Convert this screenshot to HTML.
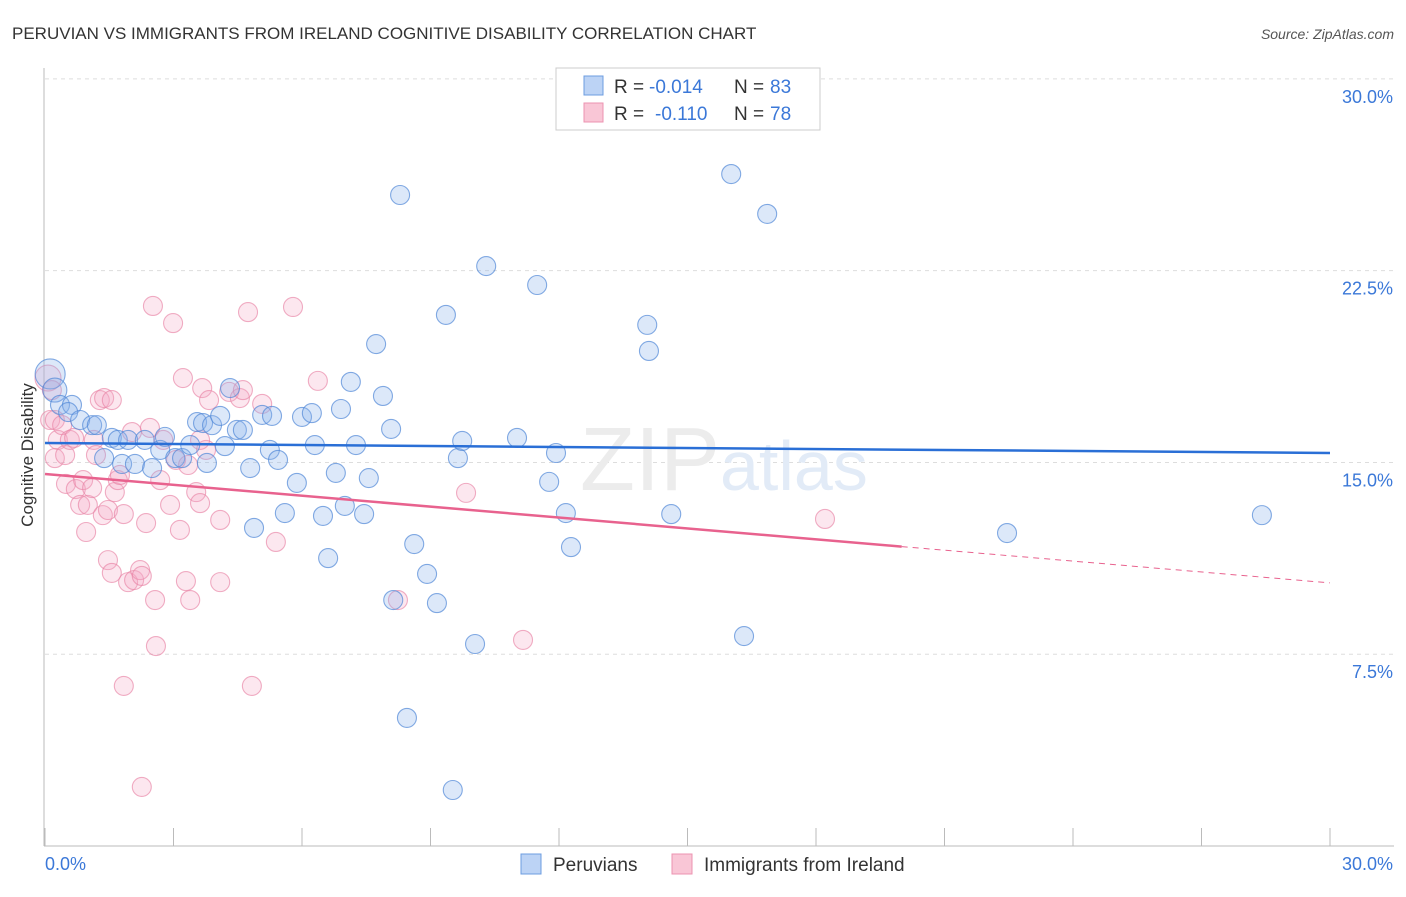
<!DOCTYPE html>
<html><head><meta charset="utf-8"><style>
body{margin:0;background:#fff;font-family:"Liberation Sans",sans-serif}
svg text{font-family:"Liberation Sans",sans-serif}
</style></head><body>
<svg id="chart" width="1406" height="892">
<text x="12" y="39" font-size="17" fill="#333">PERUVIAN VS IMMIGRANTS FROM IRELAND COGNITIVE DISABILITY CORRELATION CHART</text>
<text x="1394" y="39" font-size="14" fill="#555" text-anchor="end" font-style="italic">Source: ZipAtlas.com</text>
<g id="grid"></g>
<text x="720" y="490" font-size="90" fill="#ececec" font-family="Liberation Serif" text-anchor="end">ZIP</text>
<text x="720" y="490" font-size="70" fill="#e2ebf7">atlas</text>
<g id="pts"></g>
<g id="trends"></g>
<text x="35" y="455" font-size="17" fill="#333" text-anchor="middle" transform="rotate(-90 35 455)" dy="-2">Cognitive Disability</text>
<g>
<rect x="556" y="68" width="264" height="62" fill="#fff" stroke="#ccc"/>
<rect x="584" y="76" width="19" height="19" fill="#bcd3f5" stroke="#6c9de0"/>
<rect x="584" y="103" width="19" height="19" fill="#f9c6d6" stroke="#ec93b0"/>
<text x="614" y="93" font-size="19" fill="#333">R =</text>
<text x="649" y="93" font-size="19" fill="#3b78d8">-0.014</text>
<text x="734" y="93" font-size="19" fill="#333">N =</text>
<text x="770" y="93" font-size="19" fill="#3b78d8">83</text>
<text x="614" y="120" font-size="19" fill="#333">R =</text>
<text x="655" y="120" font-size="19" fill="#3b78d8">-0.110</text>
<text x="734" y="120" font-size="19" fill="#333">N =</text>
<text x="770" y="120" font-size="19" fill="#3b78d8">78</text>
</g>
<g>
<rect x="521" y="854" width="20" height="20" fill="#bcd3f5" stroke="#6c9de0"/>
<text x="553" y="871" font-size="19" fill="#333">Peruvians</text>
<rect x="672" y="854" width="20" height="20" fill="#f9c6d6" stroke="#ec93b0"/>
<text x="704" y="871" font-size="19" fill="#333">Immigrants from Ireland</text>
</g>
</svg>
<script>
const yTicks=[7.5,15,22.5,30];
const yTickLabels=["7.5%","15.0%","22.5%","30.0%"];
const xTickLabels=["0.0%","30.0%"];
const blueX=[0.12,0.23,0.35,0.63,0.54,0.82,1.10,1.21,1.38,1.56,1.70,1.94,1.80,2.10,2.33,2.50,2.69,2.80,3.04,3.20,3.39,3.55,3.69,3.78,3.90,4.09,4.20,4.32,4.48,4.62,4.79,4.88,5.07,5.25,5.30,5.44,5.60,5.88,6.00,6.23,6.30,6.49,6.61,6.79,6.91,7.00,7.14,7.26,7.45,7.56,7.73,7.89,8.08,8.13,8.29,8.45,8.62,8.92,9.15,9.36,9.52,9.64,9.74,10.04,10.30,11.02,11.49,11.77,11.93,12.16,12.28,14.06,14.10,14.62,16.02,16.32,16.86,22.46,28.41];
const blueY=[18.46,17.83,17.25,17.25,16.97,16.66,16.46,16.46,15.17,15.96,15.88,15.88,14.94,14.94,15.88,14.78,15.49,16.00,15.17,15.17,15.68,16.58,16.54,14.98,16.46,16.82,15.64,17.91,16.27,16.27,14.78,12.44,16.86,15.49,16.82,15.10,13.02,14.20,16.78,16.93,15.68,12.91,11.26,14.59,17.09,13.30,18.15,15.68,12.98,14.39,19.63,17.60,16.31,9.62,25.46,5.01,11.81,10.64,9.50,20.77,2.19,15.17,15.84,7.90,22.68,15.96,21.94,14.24,15.37,13.02,11.69,20.38,19.36,12.98,26.28,8.21,24.72,12.24,12.94];
const pinkX=[0.07,0.16,0.12,0.23,0.30,0.23,0.40,0.47,0.49,0.58,0.68,0.72,0.82,0.89,0.96,1.00,1.10,1.14,1.19,1.28,1.38,1.35,1.47,1.47,1.56,1.63,1.70,1.75,1.84,1.84,1.94,2.08,2.22,2.26,2.36,2.45,2.52,2.57,2.59,2.26,2.69,2.76,2.92,2.99,3.06,3.15,3.22,3.29,3.39,3.34,3.53,3.62,3.67,3.76,3.83,4.09,4.09,4.30,4.55,4.62,4.74,4.83,5.07,5.39,5.79,6.37,8.24,9.83,11.16,18.21,2.03,1.56,3.62];
const pinkY=[18.30,17.83,16.66,16.66,15.88,15.17,16.46,15.29,14.16,15.88,15.96,13.96,13.34,14.31,12.28,13.34,14.00,15.88,15.29,17.44,17.52,12.94,13.14,11.18,10.68,13.84,14.31,14.51,12.98,6.26,10.32,10.40,10.79,10.56,12.63,16.35,21.12,9.62,7.82,2.31,14.31,15.88,13.34,20.45,15.10,12.36,18.30,10.36,9.62,14.90,13.84,13.41,17.91,15.49,17.44,12.75,10.32,17.76,17.52,17.83,20.88,6.26,17.29,11.89,21.08,18.19,9.62,13.81,8.06,12.79,16.19,17.44,15.88];
const blueTrend=[15.76,15.37];
const pinkTrend=[14.55,10.29];
const pinkSolidEnd=20;
const NS="http://www.w3.org/2000/svg";
const X=v=>45+v*(1285/30), Y=v=>846-v*25.57;
function mk(tag,attrs,parent){const e=document.createElementNS(NS,tag);for(const k in attrs)e.setAttribute(k,attrs[k]);parent.appendChild(e);return e;}
const grid=document.getElementById('grid');
yTicks.forEach((t,i)=>{
 const l=mk('line',{x1:45,x2:1394,y1:Y(t),y2:Y(t),stroke:'#ddd','stroke-dasharray':'4,4'},grid);
 
 
 const tx=mk('text',{x:1393,y:Y(t)+24,'font-size':18,fill:'#3b78d8','text-anchor':'end'},grid);
 tx.textContent=yTickLabels[i];
 
 
});
mk('line',{x1:44,x2:44,y1:68,y2:846,stroke:'#bbb'},grid);
mk('line',{x1:44,x2:1394,y1:846,y2:846,stroke:'#bbb'},grid);
for(let i=0;i<=10;i++){const tk=mk('line',{x1:X(i*3),x2:X(i*3),y1:828,y2:846,stroke:'#bbb'},grid);
 
 }
[[0,45,'start'],[30,1393,'end']].forEach((a,i)=>{const tx=mk('text',{x:a[1],y:870,'font-size':18,fill:'#3b78d8','text-anchor':a[2]},grid);tx.textContent=xTickLabels[i];
 
 });
const pts=document.getElementById('pts');
pinkX.forEach((v,i)=>{const c=mk('circle',{cx:X(v),cy:Y(pinkY[i]),r:i==0?13:9.5,fill:'rgba(246,170,196,0.28)',stroke:'rgba(232,130,165,0.65)','stroke-width':1.1},pts);
 
 });
blueX.forEach((v,i)=>{const c=mk('circle',{cx:X(v),cy:Y(blueY[i]),r:i==0?15:(i==1?12:9.5),fill:'rgba(140,178,236,0.3)',stroke:'rgba(80,135,215,0.7)','stroke-width':1.1},pts);
 
 });
const tr=document.getElementById('trends');
const bl=mk('line',{x1:X(0),y1:Y(blueTrend[0]),x2:X(30),y2:Y(blueTrend[1]),stroke:'#2a6fd6','stroke-width':2.5},tr);


const pe=pinkTrend[0]+(pinkTrend[1]-pinkTrend[0])*pinkSolidEnd/30;
const pl=mk('line',{x1:X(0),y1:Y(pinkTrend[0]),x2:X(pinkSolidEnd),y2:Y(pe),stroke:'#e8628e','stroke-width':2.5},tr);


const pd=mk('line',{x1:X(pinkSolidEnd),y1:Y(pe),x2:X(30),y2:Y(pinkTrend[1]),stroke:'#e8628e','stroke-width':1,'stroke-dasharray':'6,5'},tr);


</script>
</body></html>
